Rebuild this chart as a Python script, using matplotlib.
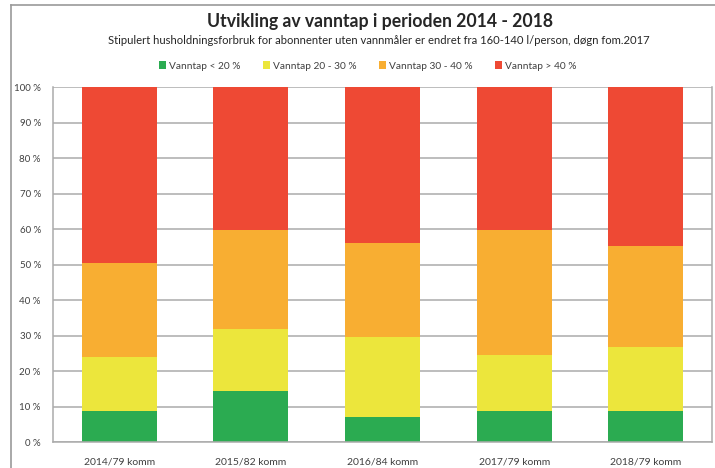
import numpy as np
import matplotlib.pyplot as plt
from matplotlib.lines import Line2D
from matplotlib.patches import Patch

plt.rcParams['font.family'] = ['Lato', 'DejaVu Sans']

categories = ['2014/79 komm', '2015/82 komm', '2016/84 komm', '2017/79 komm', '2018/79 komm']
under_20 = [8.8, 14.5, 7.1, 8.8, 8.8]
from_20_30 = [15.2, 17.4, 22.7, 15.8, 18.0]
from_30_40 = [26.6, 27.9, 26.2, 35.2, 28.5]
over_40 = [49.4, 40.2, 44.0, 40.2, 44.7]

series_names = ['Vanntap < 20 %', 'Vanntap 20 - 30 %', 'Vanntap 30 - 40 %', 'Vanntap > 40 %']
colors = ['#2bab51', '#ece63c', '#f8ae32', '#ee4934']

W, H = 715, 468
fig = plt.figure(figsize=(W / 100, H / 100), dpi=100)

# outer chart frame (only left and top edges are visible in the crop)
fig.add_artist(Line2D([11 / W, 11 / W], [0, 1 - 5 / H], color='#9a9a9a', lw=1.2))
fig.add_artist(Line2D([11 / W, 1], [1 - 5 / H, 1 - 5 / H], color='#9a9a9a', lw=1.2))

left, right, top, bottom = 53.3, 711.7, 87.3, 442.3
ax = fig.add_axes([left / W, 1 - bottom / H, (right - left) / W, (bottom - top) / H])

x = np.arange(len(categories))
bottoms = np.zeros(len(categories))
for vals, name, col in zip([under_20, from_20_30, from_30_40, over_40], series_names, colors):
    ax.bar(x, vals, width=0.57, bottom=bottoms, color=col, label=name, zorder=2)
    bottoms += np.array(vals)

ax.set_xlim(-0.5, 4.5)
ax.set_ylim(0, 100)
ax.set_yticks(range(0, 101, 10))
ax.set_yticklabels([f'{v} %' for v in range(0, 101, 10)])
ax.set_xticks(x)
ax.set_xticklabels(categories)
ax.yaxis.grid(True, color='#ababab', lw=1.1, zorder=0)
ax.set_axisbelow(True)
for s in ['left', 'bottom', 'right']:
    ax.spines[s].set_color('#ababab')
    ax.spines[s].set_linewidth(1.1)
ax.spines['top'].set_visible(False)
ax.tick_params(axis='y', length=0, pad=9, labelsize=7, labelcolor='#404040')
ax.tick_params(axis='x', length=0, pad=11, labelsize=7.5, labelcolor='#404040')

fig.text(380 / W, 1 - 21 / H, 'Utvikling av vanntap i perioden 2014 - 2018',
         ha='center', va='center', fontsize=12.7, fontweight='bold', color='#262626')
fig.text(379 / W, 1 - 41 / H,
         'Stipulert husholdningsforbruk for abonnenter uten vannmåler er endret fra 160-140 l/person, døgn fom.2017',
         ha='center', va='center', fontsize=8.1, color='#262626')

handles = [Patch(facecolor=c) for c in colors]
fig.legend(handles, series_names, loc='center', bbox_to_anchor=(368 / W, 1 - 66 / H), ncol=4,
           frameon=False, fontsize=7.3, handlelength=0.7, handleheight=0.7, handletextpad=0.3,
           columnspacing=2.2, labelcolor='#404040')

fig.savefig('out.png', dpi=100, facecolor='white')
